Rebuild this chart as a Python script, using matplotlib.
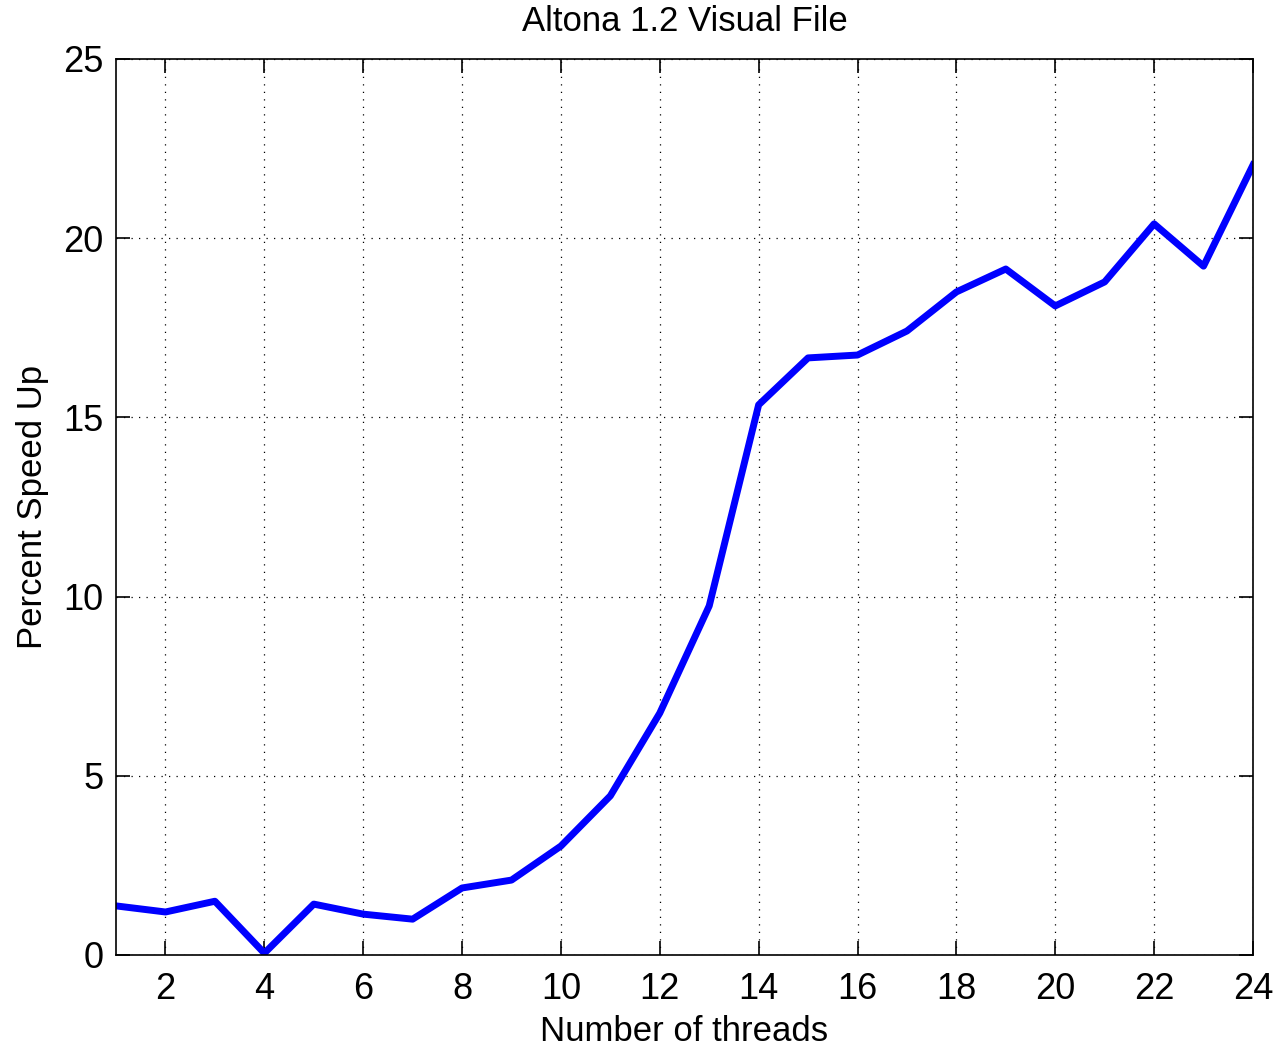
import matplotlib
matplotlib.use("Agg")
import matplotlib.pyplot as plt

# thread counts and measured speed up (%)
threads = list(range(1, 25))
speed_up = [1.37, 1.2, 1.5, 0.05, 1.42, 1.14, 1.0, 1.87, 2.09, 3.04, 4.44, 6.75,
            9.74, 15.35, 16.66, 16.74, 17.41, 18.5, 19.14, 18.11, 18.78, 20.4,
            19.22, 22.04]
x_ticks = list(range(2, 25, 2))
y_ticks = [0, 5, 10, 15, 20, 25]

plt.rcParams['font.family'] = ['Liberation Sans', 'DejaVu Sans']

fig = plt.figure(figsize=(12.78, 10.46), dpi=100)
ax = fig.add_axes([0.0908, 0.087, 0.8896, 0.8566])

ax.plot(threads, speed_up, color='#0000ff', linewidth=5)

ax.set_xlim(1, 24)
ax.set_ylim(0, 25)
ax.set_xticks(x_ticks)
ax.set_yticks(y_ticks)
ax.grid(True, color='black', linestyle=(0, (1, 5)), linewidth=0.9)

ax.tick_params(direction='in', length=10, width=1.2, top=True, right=True,
               labelsize=26)
ax.tick_params(axis='x', pad=12)
ax.tick_params(axis='y', pad=9)
for s in ax.spines.values():
    s.set_linewidth(1.2)

ax.set_xlabel("Number of threads", fontsize=25, labelpad=6)
ax.set_ylabel("Percent Speed Up", fontsize=25, labelpad=10)
ax.set_title("Altona 1.2 Visual File", fontsize=25, pad=20)

fig.savefig("out.png", dpi=100)
